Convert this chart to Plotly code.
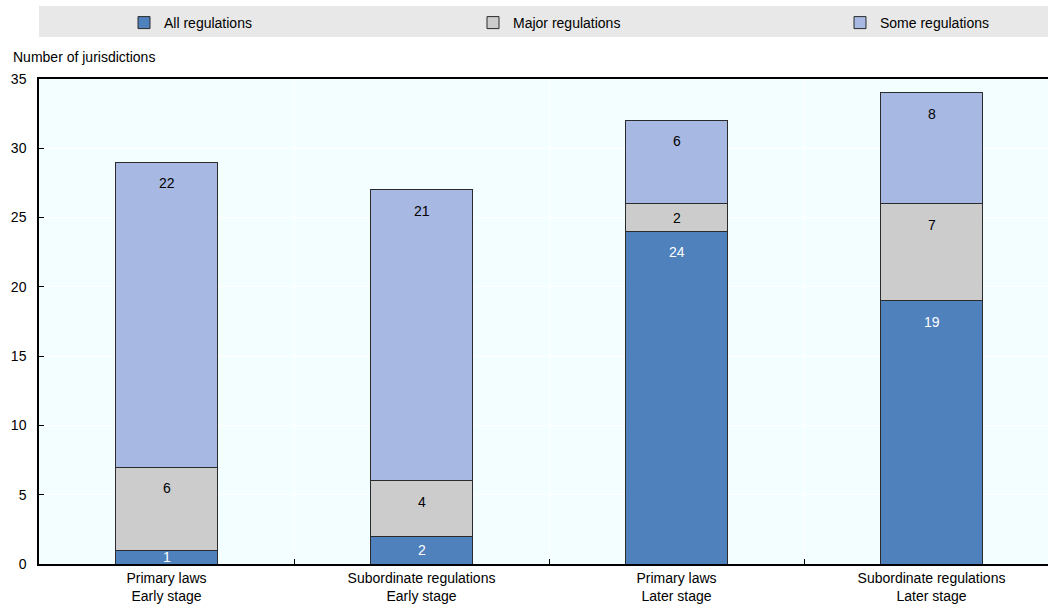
import plotly.graph_objects as go

# Categories and stacked values (number of jurisdictions)
categories = [
    "Primary laws<br>Early stage",
    "Subordinate regulations<br>Early stage",
    "Primary laws<br>Later stage",
    "Subordinate regulations<br>Later stage",
]
all_regs = [1, 2, 24, 19]
major_regs = [6, 4, 2, 7]
some_regs = [22, 21, 6, 8]

series = [
    ("All regulations", all_regs, "#4F81BD", "white"),
    ("Major regulations", major_regs, "#CCCCCC", "black"),
    ("Some regulations", some_regs, "#A7B9E3", "black"),
]

FONT = "Liberation Sans, Arial, sans-serif"
W, H = 1048, 609
ML, MR, MT, MB = 39, 0, 79, 45
PW = W - ML - MR
PH = H - MT - MB

fig = go.Figure()
legend_names = ["legend", "legend2", "legend3"]
for (name, vals, color, _), lg in zip(series, legend_names):
    fig.add_trace(go.Bar(
        x=categories, y=vals, name=name, legend=lg, showlegend=True,
        marker=dict(color=color, line=dict(color="#2B2B2B", width=1)),
        width=0.4, hoverinfo="x+y+name",
    ))

# Value labels near the top of each segment
annotations = []
base = [0] * len(categories)
for name, vals, color, tcolor in series:
    for i, v in enumerate(vals):
        top = base[i] + v
        ypos = top - min(1.5, v / 2)
        annotations.append(dict(
            x=categories[i], y=ypos, xref="x", yref="y", text=str(v),
            showarrow=False, font=dict(family=FONT, size=14, color=tcolor),
            xanchor="center", yanchor="middle",
        ))
        base[i] = top

# Axis title above the y axis
annotations.append(dict(
    x=(11 - ML) / PW, y=1 + (MT - 57) / PH, xref="paper", yref="paper",
    text="Number of jurisdictions", showarrow=False, xanchor="left", yanchor="middle",
    font=dict(family=FONT, size=14, color="black"),
))

# Legend band
shapes = [dict(
    type="rect", xref="paper", yref="paper", x0=0, x1=1,
    y0=1 + (MT - 37) / PH, y1=1 + (MT - 6) / PH,
    fillcolor="#E8E8E8", line=dict(width=0), layer="below",
)]

legend_x_px = [125, 474, 841]
legend_common = dict(
    orientation="h", bgcolor="rgba(0,0,0,0)", borderwidth=0,
    font=dict(family=FONT, size=14, color="black"),
    yanchor="middle", xanchor="left", y=1 + (MT - 23) / PH,
)
layout_legends = {}
for lg, px in zip(legend_names, legend_x_px):
    layout_legends[lg] = dict(x=(px - 1 - ML) / PW, **legend_common)

fig.update_layout(
    width=W, height=H,
    margin=dict(l=ML, r=MR, t=MT, b=MB),
    barmode="stack",
    showlegend=True,
    plot_bgcolor="#F2FEFF",
    paper_bgcolor="white",
    font=dict(family=FONT, size=14, color="black"),
    annotations=annotations,
    shapes=shapes,
    **layout_legends,
)
fig.update_xaxes(
    range=[-0.5, -0.5 + PW / 255],
    tickson="boundaries", ticks="inside", ticklen=5, tickcolor="black",
    showgrid=True, gridcolor="white", gridwidth=1,
    showline=True, linecolor="black", linewidth=1.5, mirror=True,
    tickfont=dict(family=FONT, size=14, color="black"),
)
fig.update_yaxes(
    range=[0, 35], dtick=5,
    ticks="inside", ticklen=5, tickcolor="black",
    showgrid=True, gridcolor="white", gridwidth=1,
    showline=True, linecolor="black", linewidth=1.5,
    zeroline=False, ticklabelstandoff=8,
    tickfont=dict(family=FONT, size=14, color="black"),
)

fig.write_html("out.html")
